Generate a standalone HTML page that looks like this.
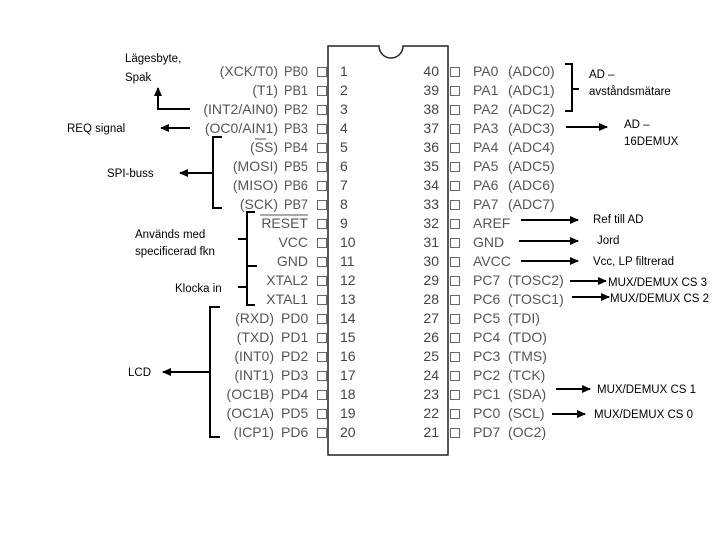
<!DOCTYPE html>
<html><head><meta charset="utf-8"><style>
html,body{margin:0;padding:0;background:#fff;width:720px;height:540px;overflow:hidden}
svg{display:block}
.p{font-family:"Liberation Sans",sans-serif;font-size:14px;fill:#555}
.n{font-family:"Liberation Sans",sans-serif;font-size:14px;fill:#444}
.a{font-family:"Liberation Sans",sans-serif;font-size:11.5px;fill:#000}
.l{stroke:#000;stroke-width:2;fill:none}
</style></head><body>
<svg width="720" height="540" viewBox="0 0 720 540" xmlns="http://www.w3.org/2000/svg">
<defs><marker id="ar" markerWidth="9" markerHeight="8" refX="8" refY="4" orient="auto" markerUnits="userSpaceOnUse"><path d="M0,0 L9,4 L0,8 z" fill="#000"/></marker></defs>
<path d="M328,46 H379 A12,12 0 0 0 403,46 H448 V455 H328 Z" fill="#fff" stroke="#222" stroke-width="1.5"/>
<g class="p" text-anchor="end">
<text x="278" y="76">(XCK/T0)</text>
<text x="278" y="95">(T1)</text>
<text x="278" y="114">(INT2/AIN0)</text>
<text x="278" y="133">(OC0/AIN1)</text>
<text x="278" y="152">(SS)</text>
<text x="278" y="171">(MOSI)</text>
<text x="278" y="190">(MISO)</text>
<text x="278" y="209">(SCK)</text>
<text x="308" y="228">RESET</text>
<text x="308" y="247">VCC</text>
<text x="308" y="266">GND</text>
<text x="308" y="285">XTAL2</text>
<text x="308" y="304">XTAL1</text>
<text x="274" y="323">(RXD)</text>
<text x="274" y="342">(TXD)</text>
<text x="274" y="361">(INT0)</text>
<text x="274" y="380">(INT1)</text>
<text x="274" y="399">(OC1B)</text>
<text x="274" y="418">(OC1A)</text>
<text x="274" y="437">(ICP1)</text>
</g>
<g class="p">
<text x="284" y="76" textLength="24" lengthAdjust="spacingAndGlyphs">PB0</text>
<text x="284" y="95" textLength="24" lengthAdjust="spacingAndGlyphs">PB1</text>
<text x="284" y="114" textLength="24" lengthAdjust="spacingAndGlyphs">PB2</text>
<text x="284" y="133" textLength="24" lengthAdjust="spacingAndGlyphs">PB3</text>
<text x="284" y="152" textLength="24" lengthAdjust="spacingAndGlyphs">PB4</text>
<text x="284" y="171" textLength="24" lengthAdjust="spacingAndGlyphs">PB5</text>
<text x="284" y="190" textLength="24" lengthAdjust="spacingAndGlyphs">PB6</text>
<text x="284" y="209" textLength="24" lengthAdjust="spacingAndGlyphs">PB7</text>
<text x="281" y="323">PD0</text><text x="281" y="342">PD1</text><text x="281" y="361">PD2</text><text x="281" y="380">PD3</text><text x="281" y="399">PD4</text><text x="281" y="418">PD5</text><text x="281" y="437">PD6</text>
</g>
<line x1="255" y1="139" x2="266" y2="139" stroke="#555" stroke-width="1"/>
<line x1="260" y1="215" x2="308" y2="215" stroke="#555" stroke-width="1"/>
<g class="n">
<text x="340" y="76">1</text><text x="340" y="95">2</text><text x="340" y="114">3</text><text x="340" y="133">4</text><text x="340" y="152">5</text><text x="340" y="171">6</text><text x="340" y="190">7</text><text x="340" y="209">8</text><text x="340" y="228">9</text><text x="340" y="247">10</text><text x="340" y="266">11</text><text x="340" y="285">12</text><text x="340" y="304">13</text><text x="340" y="323">14</text><text x="340" y="342">15</text><text x="340" y="361">16</text><text x="340" y="380">17</text><text x="340" y="399">18</text><text x="340" y="418">19</text><text x="340" y="437">20</text>
</g>
<g class="n" text-anchor="end">
<text x="439" y="76">40</text><text x="439" y="95">39</text><text x="439" y="114">38</text><text x="439" y="133">37</text><text x="439" y="152">36</text><text x="439" y="171">35</text><text x="439" y="190">34</text><text x="439" y="209">33</text><text x="439" y="228">32</text><text x="439" y="247">31</text><text x="439" y="266">30</text><text x="439" y="285">29</text><text x="439" y="304">28</text><text x="439" y="323">27</text><text x="439" y="342">26</text><text x="439" y="361">25</text><text x="439" y="380">24</text><text x="439" y="399">23</text><text x="439" y="418">22</text><text x="439" y="437">21</text>
</g>
<g fill="#fff" stroke="#666" stroke-width="1">
<rect x="317.5" y="67.5" width="9" height="9"/><rect x="317.5" y="86.5" width="9" height="9"/><rect x="317.5" y="105.5" width="9" height="9"/><rect x="317.5" y="124.5" width="9" height="9"/><rect x="317.5" y="143.5" width="9" height="9"/><rect x="317.5" y="162.5" width="9" height="9"/><rect x="317.5" y="181.5" width="9" height="9"/><rect x="317.5" y="200.5" width="9" height="9"/><rect x="317.5" y="219.5" width="9" height="9"/><rect x="317.5" y="238.5" width="9" height="9"/><rect x="317.5" y="257.5" width="9" height="9"/><rect x="317.5" y="276.5" width="9" height="9"/><rect x="317.5" y="295.5" width="9" height="9"/><rect x="317.5" y="314.5" width="9" height="9"/><rect x="317.5" y="333.5" width="9" height="9"/><rect x="317.5" y="352.5" width="9" height="9"/><rect x="317.5" y="371.5" width="9" height="9"/><rect x="317.5" y="390.5" width="9" height="9"/><rect x="317.5" y="409.5" width="9" height="9"/><rect x="317.5" y="428.5" width="9" height="9"/>
<rect x="450.5" y="67.5" width="9" height="9"/><rect x="450.5" y="86.5" width="9" height="9"/><rect x="450.5" y="105.5" width="9" height="9"/><rect x="450.5" y="124.5" width="9" height="9"/><rect x="450.5" y="143.5" width="9" height="9"/><rect x="450.5" y="162.5" width="9" height="9"/><rect x="450.5" y="181.5" width="9" height="9"/><rect x="450.5" y="200.5" width="9" height="9"/><rect x="450.5" y="219.5" width="9" height="9"/><rect x="450.5" y="238.5" width="9" height="9"/><rect x="450.5" y="257.5" width="9" height="9"/><rect x="450.5" y="276.5" width="9" height="9"/><rect x="450.5" y="295.5" width="9" height="9"/><rect x="450.5" y="314.5" width="9" height="9"/><rect x="450.5" y="333.5" width="9" height="9"/><rect x="450.5" y="352.5" width="9" height="9"/><rect x="450.5" y="371.5" width="9" height="9"/><rect x="450.5" y="390.5" width="9" height="9"/><rect x="450.5" y="409.5" width="9" height="9"/><rect x="450.5" y="428.5" width="9" height="9"/>
</g>
<g class="p">
<text x="473" y="76">PA0</text><text x="508" y="76">(ADC0)</text>
<text x="473" y="95">PA1</text><text x="508" y="95">(ADC1)</text>
<text x="473" y="114">PA2</text><text x="508" y="114">(ADC2)</text>
<text x="473" y="133">PA3</text><text x="508" y="133">(ADC3)</text>
<text x="473" y="152">PA4</text><text x="508" y="152">(ADC4)</text>
<text x="473" y="171">PA5</text><text x="508" y="171">(ADC5)</text>
<text x="473" y="190">PA6</text><text x="508" y="190">(ADC6)</text>
<text x="473" y="209">PA7</text><text x="508" y="209">(ADC7)</text>
<text x="473" y="228">AREF</text>
<text x="473" y="247">GND</text>
<text x="473" y="266">AVCC</text>
<text x="473" y="285">PC7</text><text x="508" y="285">(TOSC2)</text>
<text x="473" y="304">PC6</text><text x="508" y="304">(TOSC1)</text>
<text x="473" y="323">PC5</text><text x="508" y="323">(TDI)</text>
<text x="473" y="342">PC4</text><text x="508" y="342">(TDO)</text>
<text x="473" y="361">PC3</text><text x="508" y="361">(TMS)</text>
<text x="473" y="380">PC2</text><text x="508" y="380">(TCK)</text>
<text x="473" y="399">PC1</text><text x="508" y="399">(SDA)</text>
<text x="473" y="418">PC0</text><text x="508" y="418">(SCL)</text>
<text x="473" y="437">PD7</text><text x="508" y="437">(OC2)</text>
</g>
<path class="l" d="M190,109 H158 V88" marker-end="url(#ar)"/>
<line class="l" x1="190" y1="128" x2="161" y2="128" marker-end="url(#ar)"/>
<path class="l" d="M222,137 H213 V208 H222"/>
<line class="l" x1="213" y1="173" x2="180" y2="173" marker-end="url(#ar)"/>
<path class="l" d="M255,212 H247 V266 H257 M247,266 V305 H255 M247,239 H238 M247,287 H238"/>
<path class="l" d="M220,307 H210 V437 H220"/>
<line class="l" x1="210" y1="372" x2="163" y2="372" marker-end="url(#ar)"/>
<g class="a">
<text x="125" y="62">Lägesbyte,</text><text x="125" y="81">Spak</text>
<text x="67" y="132">REQ signal</text>
<text x="107" y="177">SPI-buss</text>
<text x="135" y="238">Används med</text><text x="135" y="255">specificerad fkn</text>
<text x="175" y="292">Klocka in</text>
<text x="128" y="376">LCD</text>
</g>
<path class="l" d="M565,64 H572 V111 H565 M572,89 H579"/>
<line class="l" x1="566" y1="127" x2="607" y2="127" marker-end="url(#ar)"/>
<line class="l" x1="521" y1="220" x2="578" y2="220" marker-end="url(#ar)"/>
<line class="l" x1="519" y1="241" x2="578" y2="241" marker-end="url(#ar)"/>
<line class="l" x1="521" y1="261" x2="578" y2="261" marker-end="url(#ar)"/>
<line class="l" x1="570" y1="281" x2="606" y2="281" marker-end="url(#ar)"/>
<line class="l" x1="572" y1="297" x2="609" y2="297" marker-end="url(#ar)"/>
<line class="l" x1="556" y1="389" x2="590" y2="389" marker-end="url(#ar)"/>
<line class="l" x1="552" y1="414" x2="585" y2="414" marker-end="url(#ar)"/>
<g class="a">
<text x="589" y="78">AD –</text><text x="589" y="95">avståndsmätare</text>
<text x="624" y="128">AD –</text><text x="624" y="145">16DEMUX</text>
<text x="593" y="223">Ref till AD</text>
<text x="597" y="244">Jord</text>
<text x="593" y="265">Vcc, LP filtrerad</text>
<text x="608" y="286">MUX/DEMUX CS 3</text>
<text x="610" y="302">MUX/DEMUX CS 2</text>
<text x="597" y="393">MUX/DEMUX CS 1</text>
<text x="594" y="418">MUX/DEMUX CS 0</text>
</g>
</svg>
</body></html>
